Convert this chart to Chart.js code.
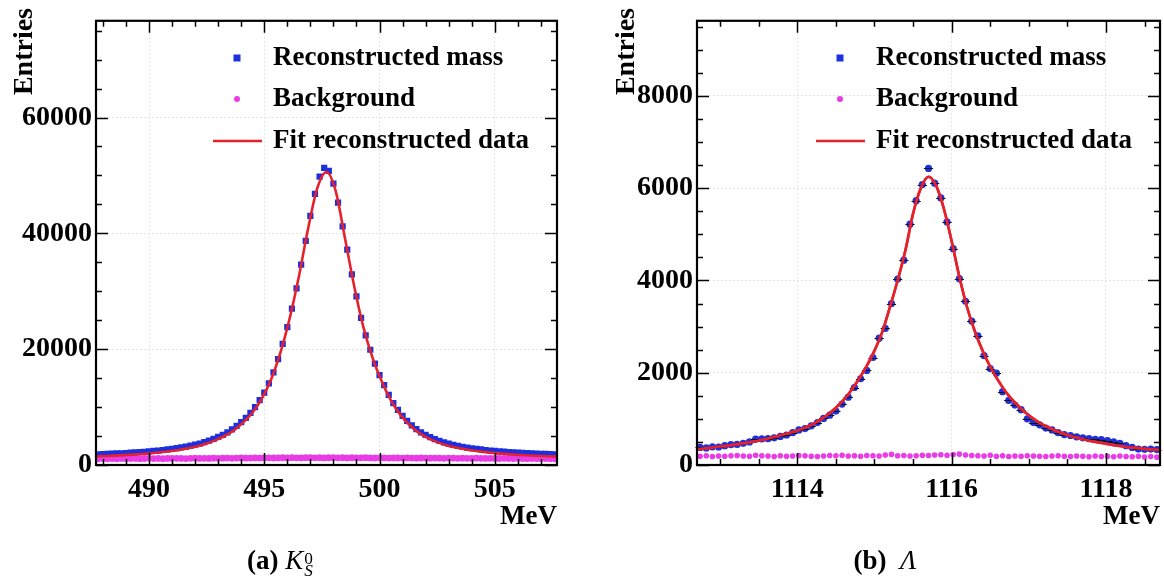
<!DOCTYPE html>
<html>
<head>
<meta charset="utf-8">
<script src="https://cdn.jsdelivr.net/npm/chart.js@4.4.1/dist/chart.umd.min.js"></script>
<style>
  html, body { margin: 0; padding: 0; background: #fff; }
  #page { position: relative; width: 1164px; height: 582px; overflow: hidden; }
  canvas { position: absolute; top: 0; }
  #kaon { left: 0; }
  #lambda { left: 600px; }
  .caption {
    position: absolute; top: 542px; height: 36px;
    font-family: "Liberation Serif", serif; font-size: 27px; color: #000;
    text-align: center; line-height: 36px; white-space: nowrap;
  }
  .caption b { font-weight: bold; }
  .caption i { font-style: italic; }
  .ss {
    display: inline-block; vertical-align: -0.42em; line-height: 0.72;
    font-size: 0.64em; text-align: left; margin-left: 1px;
  }
  .ss span { display: block; }
</style>
</head>
<body>
<div id="page">
  <canvas id="kaon" width="580" height="582"></canvas>
  <canvas id="lambda" width="564" height="582"></canvas>
  <div class="caption" style="left:0; width:560px;"><b>(a)</b>&nbsp;<i>K</i><span class="ss"><span>0</span><span><i>S</i></span></span></div>
  <div class="caption" style="left:600px; width:570px;"><b>(b)</b>&nbsp;&nbsp;<i>Λ</i></div>
</div>
<script>
// ---- K0s : 100 bins of 0.2 MeV from 487.7 to 507.7 ----
const kLow = 487.7;
const kBinWidth = 0.2;
const kCounts = [
    1850, 1880, 1910, 1950, 1990, 2030, 2070, 2120, 2170, 2230,
    2290, 2350, 2420, 2500, 2590, 2690, 2790, 2900, 3030, 3170,
    3330, 3500, 3700, 3950, 4200, 4500, 4850, 5200, 5650, 6150,
    6750, 7400, 8150, 9000, 10000, 11200, 12500, 14100, 16000, 18300,
    20900, 23800, 27000, 30500, 34600, 38700, 43000, 46800, 49800, 51300,
    50800, 48600, 45300, 41200, 37200, 32900, 29100, 25400, 22400, 19900,
    17500, 15500, 13800, 12100, 10700, 9500, 8500, 7600, 6850, 6200,
    5650, 5200, 4800, 4450, 4150, 3900, 3680, 3480, 3300, 3150,
    3010, 2890, 2780, 2680, 2590, 2500, 2430, 2360, 2300, 2240,
    2190, 2140, 2090, 2050, 2010, 1970, 1940, 1910, 1880, 1850,
];
const kBackground = [
    1080, 1110, 1090, 1120, 1100, 1130, 1090, 1110, 1140, 1100,
    1120, 1150, 1110, 1130, 1100, 1140, 1120, 1160, 1130, 1110,
    1150, 1170, 1140, 1160, 1130, 1180, 1150, 1170, 1200, 1160,
    1190, 1210, 1180, 1200, 1230, 1190, 1220, 1240, 1210, 1230,
    1250, 1220, 1260, 1240, 1230, 1270, 1250, 1240, 1260, 1230,
    1250, 1270, 1240, 1260, 1230, 1250, 1220, 1240, 1260, 1230,
    1210, 1240, 1220, 1200, 1230, 1210, 1190, 1220, 1200, 1180,
    1210, 1190, 1170, 1200, 1180, 1160, 1190, 1170, 1150, 1180,
    1160, 1140, 1170, 1150, 1130, 1160, 1140, 1120, 1150, 1130,
    1110, 1140, 1120, 1100, 1130, 1110, 1090, 1120, 1100, 1080,
];
// fit curve sampled every 0.4 MeV from 487.7
const kFitLow = 487.7;
const kFitStep = 0.4;
const kFit = [
    1490, 1550, 1620, 1700, 1790, 1900, 2030, 2190, 2380, 2600,
    2880, 3230, 3700, 4300, 5050, 6050, 7400, 9100, 11500, 14800,
    19400, 25300, 32500, 40800, 47800, 50600, 47300, 39200, 30900, 23800,
    18500, 14400, 11100, 8700, 6900, 5600, 4650, 3950, 3430, 3030,
    2720, 2470, 2270, 2100, 1960, 1840, 1740, 1650, 1580, 1510,
    1450,
];
const kXTicks = [490, 495, 500, 505];
const kYTicks = [0, 20000, 40000, 60000];

// ---- Lambda : 75 bins of 0.08 MeV from 1112.7 to 1118.7 ----
const lLow = 1112.7;
const lBinWidth = 0.08;
const lCounts = [
    380, 370, 395, 390, 420, 440, 445, 470, 500, 560,
    565, 570, 590, 620, 650, 700, 760, 790, 850, 920,
    1010, 1080, 1170, 1320, 1470, 1680, 1870, 2050, 2330, 2750,
    2960, 3500, 4030, 4440, 5220, 5730, 6080, 6430, 6110, 5790,
    5270, 4690, 4040, 3550, 3120, 2800, 2370, 2090, 1990, 1590,
    1400, 1300, 1200, 1000, 920, 870, 800, 760, 700, 660,
    640, 610, 590, 570, 555, 550, 530, 500, 470, 420,
    380, 345, 340, 345, 335,
];
const lBackground = [
    190, 200, 185, 195, 190, 200, 205, 195, 190, 210,
    200, 195, 185, 200, 190, 195, 205, 200, 190, 185,
    195, 205, 200, 210, 195, 200, 190, 205, 200, 195,
    215, 230, 200, 205, 195, 200, 210, 205, 215, 220,
    210, 225, 235, 215, 205, 200, 195, 210, 190, 200,
    185, 195, 190, 200, 195, 190, 185, 195, 200, 190,
    185, 195, 190, 180, 195, 185, 190, 180, 195, 185,
    180, 190, 175, 185, 170,
];
// fit curve sampled every 0.1 MeV from 1112.7
const lFitLow = 1112.7;
const lFitStep = 0.1;
const lFit = [
    340, 360, 380, 400, 420, 445, 470, 500, 530, 565,
    605, 650, 695, 745, 810, 885, 985, 1100, 1240, 1410,
    1620, 1870, 2150, 2480, 2880, 3420, 4000, 4650, 5450, 6000,
    6250, 6050, 5550, 4850, 4080, 3420, 2900, 2480, 2130, 1840,
    1590, 1390, 1220, 1080, 960, 860, 780, 710, 650, 600,
    560, 520, 490, 460, 430, 405, 385, 365, 350, 335,
    325,
];
const lXTicks = [1114, 1116, 1118];
const lYTicks = [0, 2000, 4000, 6000, 8000];

const legendLabels = ['Reconstructed mass', 'Background', 'Fit reconstructed data'];

const BLUE = '#1d30e0';
const PINK = '#ea3ce6';
const RED = '#e5222b';
const SERIF = '"Liberation Serif", "Times New Roman", serif';

function binned(low, width, values) {
    return values.map((v, i) => ({ x: low + width * (i + 0.5), y: v }));
}
function sampled(low, step, values) {
    return values.map((v, i) => ({ x: low + step * i, y: v }));
}
function stepValues(min, max, step) {
    const out = [];
    for (let i = Math.ceil(min / step - 1e-9); i * step <= max + 1e-9; i++) out.push(i * step);
    return out;
}
function isMajor(v, major) {
    const r = v / major;
    return Math.abs(r - Math.round(r)) < 1e-6;
}

// frame, inward ticks on all four sides, axis titles, legend, error bars
const histFrame = {
    id: 'histFrame',
    afterDatasetsDraw(chart, args, o) {
        const { ctx, chartArea: a } = chart;
        const xs = chart.scales.x;
        const ys = chart.scales.y;
        ctx.save();

        if (o.xErr) {
            const ds = chart.data.datasets[o.errDataset].data;
            ctx.strokeStyle = '#151515';
            ctx.lineWidth = 1.2;
            ctx.beginPath();
            ds.forEach((p) => {
                const py = Math.round(ys.getPixelForValue(p.y)) + 0.5;
                ctx.moveTo(xs.getPixelForValue(p.x - o.xErr), py);
                ctx.lineTo(xs.getPixelForValue(p.x + o.xErr), py);
            });
            ctx.stroke();
            // keep the fit line on top of the bars
            chart.getDatasetMeta(0).controller.draw();
        }

        ctx.strokeStyle = '#000';
        ctx.lineWidth = 1.5;
        ctx.beginPath();
        stepValues(xs.min, xs.max, o.xMinor).forEach((v) => {
            const len = isMajor(v, o.xMajor) ? 12 : 6;
            const px = Math.round(xs.getPixelForValue(v)) + 0.5;
            ctx.moveTo(px, a.bottom);
            ctx.lineTo(px, a.bottom - len);
            ctx.moveTo(px, a.top);
            ctx.lineTo(px, a.top + len);
        });
        stepValues(ys.min, ys.max, o.yMinor).forEach((v) => {
            const len = isMajor(v, o.yMajor) ? 12 : 6;
            const py = Math.round(ys.getPixelForValue(v)) + 0.5;
            ctx.moveTo(a.left, py);
            ctx.lineTo(a.left + len, py);
            ctx.moveTo(a.right, py);
            ctx.lineTo(a.right - len, py);
        });
        ctx.stroke();

        ctx.lineWidth = 2.2;
        ctx.strokeRect(a.left, a.top, a.right - a.left, a.bottom - a.top);

        // axis titles
        ctx.fillStyle = '#000';
        ctx.font = 'bold 27px ' + SERIF;
        ctx.textBaseline = 'middle';
        ctx.textAlign = 'right';
        ctx.fillText('MeV', a.right, o.xTitleY);
        ctx.save();
        ctx.translate(o.yTitleX, 8);
        ctx.rotate(-Math.PI / 2);
        ctx.textAlign = 'right';
        ctx.font = 'bold 28px ' + SERIF;
        ctx.fillText('Entries', 0, 0);
        ctx.restore();

        // legend
        const L = o.legend;
        ctx.textAlign = 'left';
        legendLabels.forEach((label, i) => {
            const ly = L.rows[i];
            if (i === 0) {
                ctx.fillStyle = BLUE;
                ctx.fillRect(L.markerX - 3.5, ly - 3.5, 7, 7);
            } else if (i === 1) {
                ctx.fillStyle = PINK;
                ctx.beginPath();
                ctx.arc(L.markerX, ly, 3, 0, Math.PI * 2);
                ctx.fill();
            } else {
                ctx.strokeStyle = RED;
                ctx.lineWidth = 2.5;
                ctx.beginPath();
                ctx.moveTo(L.markerX - 24, ly);
                ctx.lineTo(L.markerX + 25, ly);
                ctx.stroke();
            }
            ctx.fillStyle = '#000';
            ctx.fillText(label, L.textX, ly);
        });
        ctx.restore();
    },
};

function makeHist(canvasId, cfg) {
    const canvas = document.getElementById(canvasId);
    const tickFont = { family: SERIF, size: 28, weight: 'bold' };
    return new Chart(canvas.getContext('2d'), {
        type: 'scatter',
        data: {
            datasets: [
                {
                    data: cfg.fit,
                    showLine: true,
                    borderColor: RED,
                    borderWidth: 2.6,
                    pointRadius: 0,
                    cubicInterpolationMode: 'monotone',
                },
                {
                    data: cfg.background,
                    pointStyle: 'circle',
                    pointRadius: cfg.bgRadius,
                    pointBorderWidth: 0,
                    backgroundColor: PINK,
                    borderColor: PINK,
                },
                {
                    data: cfg.counts,
                    pointStyle: cfg.pointStyle,
                    pointRadius: cfg.pointRadius,
                    pointBorderWidth: 0,
                    backgroundColor: BLUE,
                    borderColor: BLUE,
                },
            ],
        },
        options: {
            responsive: false,
            animation: false,
            devicePixelRatio: 1,
            events: [],
            layout: { padding: { top: 19, right: cfg.padRight, left: 0, bottom: 0 } },
            scales: {
                x: {
                    type: 'linear',
                    min: cfg.xMin,
                    max: cfg.xMax,
                    afterBuildTicks: (s) => { s.ticks = cfg.xTicks.map((v) => ({ value: v })); },
                    afterFit: (s) => { s.height = 582 - 465; },
                    grid: { color: '#e4e4e4', lineWidth: 1, drawTicks: false },
                    border: { display: false, dash: [2, 2] },
                    ticks: {
                        font: tickFont,
                        color: '#000',
                        padding: 8,
                        maxRotation: 0,
                        autoSkip: false,
                        callback: (v) => String(v),
                    },
                },
                y: {
                    type: 'linear',
                    min: 0,
                    max: cfg.yMax,
                    afterBuildTicks: (s) => { s.ticks = cfg.yTicks.map((v) => ({ value: v })); },
                    afterFit: (s) => { s.width = cfg.yAxisWidth; },
                    grid: { color: '#e4e4e4', lineWidth: 1, drawTicks: false },
                    border: { display: false, dash: [2, 2] },
                    ticks: {
                        font: tickFont,
                        color: '#000',
                        padding: 4,
                        autoSkip: false,
                        callback: (v) => String(v),
                    },
                },
            },
            plugins: {
                legend: { display: false },
                tooltip: { enabled: false },
                histFrame: {
                    xMajor: cfg.xMajor, xMinor: cfg.xMinor,
                    yMajor: cfg.yMajor, yMinor: cfg.yMinor,
                    xTitleY: 517,
                    yTitleX: cfg.yTitleX,
                    legend: cfg.legend,
                    xErr: cfg.xErr,
                    errDataset: 2,
                },
            },
        },
        plugins: [histFrame],
    });
}

makeHist('kaon', {
    counts: binned(kLow, kBinWidth, kCounts),
    background: binned(kLow, kBinWidth, kBackground),
    fit: sampled(kFitLow, kFitStep, kFit),
    xMin: 487.7, xMax: 507.7, xMajor: 5, xMinor: 1, xTicks: kXTicks,
    yMax: 76700, yMajor: 20000, yMinor: 5000, yTicks: kYTicks,
    yAxisWidth: 96, padRight: 23, yTitleX: 25,
    pointStyle: 'rect', pointRadius: 4.4, bgRadius: 3.4,
    legend: { markerX: 237, textX: 273, rows: [58, 99, 141] },
});

makeHist('lambda', {
    counts: binned(lLow, lBinWidth, lCounts),
    background: binned(lLow, lBinWidth, lBackground),
    fit: sampled(lFitLow, lFitStep, lFit),
    xMin: 1112.7, xMax: 1118.7, xMajor: 2, xMinor: 0.5, xTicks: lXTicks,
    yMax: 9630, yMajor: 2000, yMinor: 500, yTicks: lYTicks,
    yAxisWidth: 97, padRight: 4, yTitleX: 27,
    pointStyle: 'circle', pointRadius: 3.6, bgRadius: 2.8,
    xErr: 0.06,
    legend: { markerX: 240, textX: 276, rows: [58, 99, 141] },
});
</script>
</body>
</html>
